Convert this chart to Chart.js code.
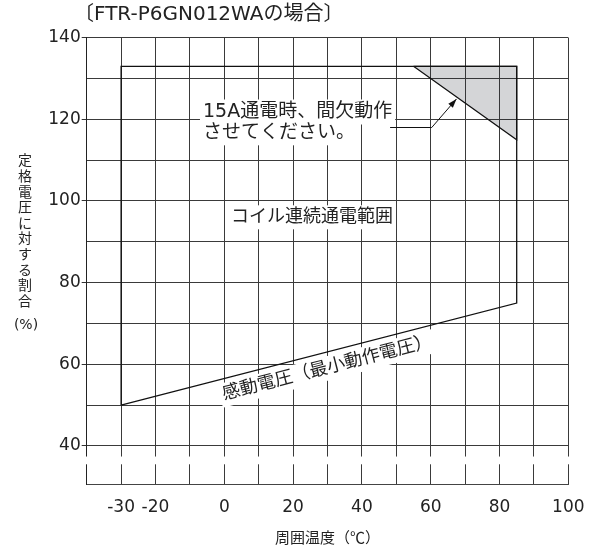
<!DOCTYPE html>
<html lang="ja">
  <head>
    <meta charset="UTF-8" />
    <title>FTR-P6GN012WA 動作電圧範囲</title>
    <script src="https://cdn.jsdelivr.net/npm/chart.js"></script>
    <style>
      body { margin: 0; background: #fff; }
      #grafico { display: block; }
    </style>
  </head>
  <body>
    <canvas id="grafico" width="602" height="547"></canvas>
  </body>
</html>

<script>
  // coil continuous energizing range (ambient temp / % of rated voltage)
  const rangeTemp = [-30, -30, 85, 85, -30];
  const rangePct = [50, 133, 133, 75, 50];

  // 15A intermittent zone (shaded)
  const intermTemp = [55, 85, 85, 55];
  const intermPct = [133, 133, 115, 133];

  // leader line to the shaded zone
  const leaderTemp = [48.2, 60.3, 67.5];
  const leaderPct = [118, 118, 125];

  const labelsX = [-30, -20, 0, 20, 40, 60, 80, 100];
  const labelsY = [40, 60, 80, 100, 120, 140];
  const axisBreak = [35.5, 37.4];

  const notes = [
    { text: "15A通電時、間欠動作", x: -6.2, y: 121.8, size: 19, align: "left" },
    { text: "させてください。", x: -6.2, y: 116.7, size: 19, align: "left" },
    { text: "コイル連続通電範囲", x: 25.5, y: 96, size: 18, align: "center" },
    { text: "感動電圧（最小動作電圧）", x: 30, y: 59, size: 18, align: "center", rotate: true },
  ];

  const fonte = "'DejaVu Sans', 'Noto Sans CJK JP', sans-serif";
  const corTexto = "#222";
  const corGrade = "#3a3a3a";

  function pontos(xs, ys) {
    return xs.map((v, i) => ({ x: v, y: ys[i] }));
  }

  const notesPlugin = {
    id: "notes",
    beforeDatasetsDraw(chart) {
      const { ctx, scales: { x, y } } = chart;
      // angle of the pickup voltage line
      const ang = Math.atan2(
        y.getPixelForValue(rangePct[3]) - y.getPixelForValue(rangePct[4]),
        x.getPixelForValue(rangeTemp[3]) - x.getPixelForValue(rangeTemp[4])
      );
      notes.forEach((n) => {
        ctx.save();
        ctx.font = n.size + "px " + fonte;
        ctx.translate(x.getPixelForValue(n.x), y.getPixelForValue(n.y));
        if (n.rotate) ctx.rotate(ang);
        const w = ctx.measureText(n.text).width;
        const x0 = n.align === "left" ? 0 : -w / 2;
        ctx.fillStyle = "#fff";
        ctx.fillRect(x0 - 3, -n.size / 2 - 3, w + 6, n.size + 6);
        ctx.fillStyle = corTexto;
        ctx.textAlign = n.align;
        ctx.textBaseline = "middle";
        ctx.fillText(n.text, 0, 0);
        ctx.restore();
      });
    },
    afterDraw(chart) {
      const { ctx, scales: { x, y } } = chart;
      ctx.save();

      // broken axis gap
      const yTop = y.getPixelForValue(axisBreak[1]);
      const yBot = y.getPixelForValue(axisBreak[0]);
      ctx.fillStyle = "#fff";
      ctx.fillRect(x.left - 3, yTop, x.right - x.left + 6, yBot - yTop);

      // arrow head
      const meta = chart.getDatasetMeta(2);
      const p1 = meta.data[1];
      const p2 = meta.data[2];
      const a = Math.atan2(p2.y - p1.y, p2.x - p1.x);
      ctx.fillStyle = "#111";
      ctx.beginPath();
      ctx.moveTo(p2.x, p2.y);
      ctx.lineTo(p2.x - 9 * Math.cos(a) + 3 * Math.sin(a), p2.y - 9 * Math.sin(a) - 3 * Math.cos(a));
      ctx.lineTo(p2.x - 9 * Math.cos(a) - 3 * Math.sin(a), p2.y - 9 * Math.sin(a) + 3 * Math.cos(a));
      ctx.closePath();
      ctx.fill();

      // title
      ctx.fillStyle = corTexto;
      ctx.font = "20px " + fonte;
      ctx.textAlign = "left";
      ctx.textBaseline = "middle";
      ctx.fillText("〔FTR-P6GN012WAの場合〕", 74, 15);

      // vertical y title
      ctx.textAlign = "center";
      ctx.font = "14px 'Noto Sans CJK JP', sans-serif";
      const tituloY = "定格電圧に対する割合";
      for (let i = 0; i < tituloY.length; i++) {
        ctx.fillText(tituloY[i], 25, 160 + i * 15.6);
      }
      ctx.font = "14px " + fonte;
      ctx.fillText("(%)", 26, 325);
      ctx.restore();
    },
  };

  const config = {
    type: "scatter",
    data: {
      datasets: [
        {
          data: pontos(rangeTemp, rangePct),
          showLine: true,
          borderColor: "#111",
          borderWidth: 1.3,
          pointRadius: 0,
          fill: false,
        },
        {
          data: pontos(intermTemp, intermPct),
          showLine: true,
          borderColor: "#111",
          borderWidth: 1.2,
          backgroundColor: "rgba(40, 45, 55, 0.2)",
          fill: "shape",
          pointRadius: 0,
        },
        {
          data: pontos(leaderTemp, leaderPct),
          showLine: true,
          borderColor: "#111",
          borderWidth: 1,
          pointRadius: 0,
          fill: false,
        },
      ],
    },
    options: {
      responsive: false,
      animation: false,
      devicePixelRatio: 1,
      layout: { padding: { top: 37.7, right: 33.7, left: 0, bottom: 0 } },
      plugins: {
        legend: { display: false },
        tooltip: { enabled: false },
      },
      scales: {
        x: {
          type: "linear",
          min: -40,
          max: 100,
          ticks: {
            stepSize: 10,
            autoSkip: false,
            maxRotation: 0,
            padding: 13,
            color: corTexto,
            font: { family: fonte, size: 17 },
            callback: (v) => (labelsX.includes(v) ? v : ""),
          },
          grid: { color: corGrade, drawTicks: false },
          border: { color: "#444", width: 1 },
          title: {
            display: true,
            text: "周囲温度（℃）",
            color: corTexto,
            font: { family: "'Noto Sans CJK JP', sans-serif", size: 15 },
            padding: { top: 0, bottom: 1 },
          },
          afterFit: (s) => {
            s.height = 62.3;
          },
        },
        y: {
          min: 30.5,
          max: 140,
          ticks: {
            stepSize: 10,
            includeBounds: false,
            padding: 1,
            color: corTexto,
            font: { family: fonte, size: 17 },
            callback: (v) => (labelsY.includes(v) ? v : ""),
          },
          grid: {
            color: corGrade,
            tickLength: 5,
            tickColor: (c) => (c.tick && labelsY.includes(c.tick.value) ? "#333" : "transparent"),
          },
          border: { color: "#222", width: 1 },
          afterFit: (s) => {
            s.width = 86.7;
          },
        },
      },
    },
    plugins: [notesPlugin],
  };

  const grafico = new Chart(document.getElementById("grafico"), config);
</script>
